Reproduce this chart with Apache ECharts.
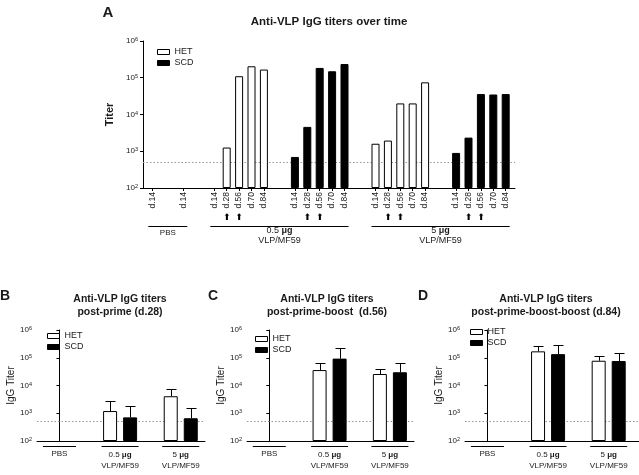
<!DOCTYPE html>
<html><head><meta charset="utf-8">
<script src="https://cdn.jsdelivr.net/npm/echarts/dist/echarts.min.js"></script>
<style>html,body{margin:0;padding:0;background:#fff}#c{width:639px;height:475px}</style>
</head><body><div id="c"></div>
<script>
// ---------- DATA ----------
const days = ['d.14', 'd.28', 'd.56', 'd.70', 'd.84'];
const boostDays = ['d.28', 'd.56'];
// Panel A (null = below detection / no bar)
const pbsHetA = [null];
const pbsScdA = [null];
const het05A = [null, 1260, 110000, 205000, 167000];
const scd05A = [700, 4600, 185000, 150000, 236000];
const het5A = [1600, 1950, 20000, 20000, 75000];
const scd5A = [900, 2350, 36000, 35000, 36000];
const detectionLimit = 500;
// Panels B, C, D
const groups = ['PBS', '0.5', '5'];
const hetB = [null, 1200, 4100], hetBerr = [null, 2750, 7300];
const scdB = [null, 710, 660], scdBerr = [null, 1900, 1600];
const hetC = [null, 36000, 26000], hetCerr = [null, 63000, 38000];
const scdC = [null, 93000, 30000], scdCerr = [null, 220000, 65000];
const hetD = [null, 170000, 78000], hetDerr = [null, 260000, 115000];
const scdD = [null, 135000, 76000], scdDerr = [null, 280000, 150000];
const titlesBCD = [['B', 'post-prime (d.28)'], ['C', 'post-prime-boost  (d.56)'], ['D', 'post-prime-boost-boost (d.84)']];

// ---------- BUILD ----------
const FONT = '"Liberation Sans", Arial, sans-serif';
const TXT = '#1a1a1a';
const chart = echarts.init(document.getElementById('c'));

const segs = [
  {key: 'PBS-HET', dose: 'PBS', ser: 'HET', days: ['d.14'], vals: pbsHetA},
  {key: 'PBS-SCD', dose: 'PBS', ser: 'SCD', days: ['d.14'], vals: pbsScdA},
  {key: '0.5-HET', dose: '0.5', ser: 'HET', days: days, vals: het05A},
  {key: '0.5-SCD', dose: '0.5', ser: 'SCD', days: days, vals: scd05A},
  {key: '5-HET', dose: '5', ser: 'HET', days: days, vals: het5A},
  {key: '5-SCD', dose: '5', ser: 'SCD', days: days, vals: scd5A}
];
const catsA = [], hetA = [], scdA = [], arrowA = [];
const spanA = {};
let gapN = 0;
function pushGap() { catsA.push('gap' + (gapN++)); hetA.push(null); scdA.push(null); arrowA.push(false); }
pushGap();
segs.forEach((s, i) => {
  if (i > 0) for (let k = 0; k < 4; k++) pushGap();
  s.days.forEach((d, j) => {
    if (j > 0) pushGap();
    const idx = catsA.length;
    catsA.push(s.key + '|' + d);
    hetA.push(s.ser === 'HET' ? s.vals[j] : null);
    scdA.push(s.ser === 'SCD' ? s.vals[j] : null);
    arrowA.push(s.dose !== 'PBS' && boostDays.includes(d));
    if (!spanA[s.dose]) spanA[s.dose] = [idx, idx]; else spanA[s.dose][1] = idx;
  });
});
pushGap();

const logLabel = {
  fontSize: 8, color: TXT, fontFamily: FONT, margin: 5,
  formatter: v => '10{s|' + Math.round(Math.log10(v)) + '}',
  rich: {s: {fontSize: 5.5, verticalAlign: 'top', fontFamily: FONT, color: TXT, padding: [0, 0, 3, 0]}}
};
function logAxis(grid, name, bold, gap) {
  return {
    type: 'log', logBase: 10, gridIndex: grid, min: 100, max: 1000000, startValue: 100,
    axisLine: {show: true, lineStyle: {color: '#000', width: 1}},
    axisTick: {show: true, inside: false, length: 3, lineStyle: {color: '#000'}},
    splitLine: {show: false}, minorTick: {show: false},
    axisLabel: logLabel,
    name: name, nameLocation: 'middle', nameGap: gap,
    nameTextStyle: {fontSize: bold ? 11 : 10, fontWeight: bold ? 'bold' : 'normal', color: TXT, fontFamily: FONT}
  };
}
const dotted = {
  silent: true, symbol: 'none', z: 1, label: {show: false},
  lineStyle: {type: [1.5, 2], color: '#999', width: 1},
  data: [{yAxis: detectionLimit}]
};
const hetStyle = {color: '#fff', borderColor: '#000', borderWidth: 1};
const scdStyle = {color: '#000', borderColor: '#000', borderWidth: 1};

const grids = [
  {left: 143, top: 41, width: 372, height: 147},
  {left: 37, top: 330, width: 168, height: 111},
  {left: 247, top: 330, width: 167, height: 111},
  {left: 465, top: 330, width: 174, height: 111}
].map(g => Object.assign({containLabel: false, outerBoundsMode: 'none'}, g));

const xAxes = [
  {type: 'category', gridIndex: 0, data: catsA, boundaryGap: true,
   axisLine: {show: true, lineStyle: {color: '#000'}},
   axisTick: {show: true, alignWithLabel: true, length: 3, lineStyle: {color: '#000'},
              interval: (i, v) => !String(v).startsWith('gap')},
   axisLabel: {interval: 0, rotate: 90, fontSize: 8.5, margin: 4, color: TXT, fontFamily: FONT,
               formatter: v => v.startsWith('gap') ? '' : v.split('|')[1]}},
  {type: 'category', gridIndex: 0, data: catsA, position: 'bottom', offset: 25,
   axisLine: {show: false}, axisTick: {show: false},
   axisLabel: {interval: 0, margin: 0, fontSize: 9, color: '#000', fontFamily: 'DejaVu Sans',
               formatter: (v, i) => arrowA[i] ? '⬆' : ''}}
];
const bcdMax = [2.4, 2.4, 2.5];
[1, 2, 3].forEach((g, k) => xAxes.push({
  type: 'value', gridIndex: g, min: -0.37, max: bcdMax[k],
  axisLine: {show: true, lineStyle: {color: '#000'}}, axisTick: {show: false},
  axisLabel: {show: false}, splitLine: {show: false}
}));
const yAxes = [logAxis(0, 'Titer', true, 22), logAxis(1, 'IgG Titer', false, 18),
               logAxis(2, 'IgG Titer', false, 18), logAxis(3, 'IgG Titer', false, 18)];

const series = [
  {type: 'bar', name: 'HET', xAxisIndex: 0, yAxisIndex: 0, data: hetA, barWidth: 8, barGap: '-100%',
   itemStyle: hetStyle, markLine: dotted, clip: true, z: 2},
  {type: 'bar', name: 'SCD', xAxisIndex: 0, yAxisIndex: 0, data: scdA, barWidth: 8, barGap: '-100%',
   itemStyle: scdStyle, clip: true, z: 2}
];
function pairs(vals) { return vals.map((v, i) => v == null ? null : [i, v]).filter(Boolean); }
function errSeries(k, vals, errs, sign) {
  return {
    type: 'custom', name: 'err', xAxisIndex: 2 + k, yAxisIndex: 1 + k, z: 4, silent: true,
    data: vals.map((v, i) => v == null ? null : [i, v, errs[i]]).filter(Boolean),
    renderItem: (params, api) => {
      const p0 = api.coord([api.value(0), api.value(1)]);
      const p1 = api.coord([api.value(0), api.value(2)]);
      const x = Math.round(p0[0] + sign * 10) + 0.5;
      const yt = Math.round(p1[1]) + 0.5;
      return {type: 'group', children: [
        {type: 'line', shape: {x1: x, y1: p0[1], x2: x, y2: yt}, style: {stroke: '#000', lineWidth: 1}},
        {type: 'line', shape: {x1: x - 5, y1: yt, x2: x + 5, y2: yt}, style: {stroke: '#000', lineWidth: 1}}
      ]};
    }
  };
}
const bcd = [[hetB, hetBerr, scdB, scdBerr], [hetC, hetCerr, scdC, scdCerr], [hetD, hetDerr, scdD, scdDerr]];
bcd.forEach((d, k) => {
  series.push({type: 'bar', name: 'HET', xAxisIndex: 2 + k, yAxisIndex: 1 + k, data: pairs(d[0]),
               barWidth: 14, barGap: '43%', itemStyle: hetStyle, markLine: dotted, clip: true, z: 2});
  series.push({type: 'bar', name: 'SCD', xAxisIndex: 2 + k, yAxisIndex: 1 + k, data: pairs(d[2]),
               barWidth: 14, barGap: '43%', itemStyle: scdStyle, clip: true, z: 2});
  series.push(errSeries(k, d[0], d[1], -1));
  series.push(errSeries(k, d[2], d[3], 1));
});

function legendAt(left, top) {
  return {data: ['HET', 'SCD'], left: left, top: top, orient: 'vertical', icon: 'rect',
          itemWidth: 12, itemHeight: 5, itemGap: 1, padding: 0, selectedMode: false,
          itemStyle: {borderWidth: 1},
          textStyle: {fontSize: 9, lineHeight: 10, color: TXT, fontFamily: FONT}};
}

chart.setOption({
  animation: false,
  textStyle: {fontFamily: FONT},
  grid: grids, xAxis: xAxes, yAxis: yAxes, series: series,
  legend: [legendAt(157, 47), legendAt(47, 331), legendAt(255, 334), legendAt(470, 327)]
});

// ---------- text & group brackets ----------
const gfx = [];
function txt(x, y, text, font, extra) {
  gfx.push({type: 'text', x: x, y: y, silent: true,
            style: Object.assign({text: text, font: font, fill: TXT, textAlign: 'center', textVerticalAlign: 'middle'}, extra || {})});
}
function hline(x1, x2, y) {
  gfx.push({type: 'line', silent: true, shape: {x1: x1, y1: y + 0.5, x2: x2, y2: y + 0.5}, style: {stroke: '#000', lineWidth: 1}});
}
const richMu = fs => ({rich: {b: {fontWeight: 'bold', fontSize: fs, fontFamily: FONT, fill: TXT}, n: {fontSize: fs, fontFamily: FONT, fill: TXT}}});

// Panel A
txt(108, 13, 'A', 'bold 15px ' + FONT);
txt(329, 22, 'Anti-VLP IgG titers over time', 'bold 11.5px ' + FONT);
['PBS', '0.5', '5'].forEach(dose => {
  const x1 = chart.convertToPixel({xAxisIndex: 0}, spanA[dose][0]) - 4;
  const x2 = chart.convertToPixel({xAxisIndex: 0}, spanA[dose][1]) + 4;
  const cx = (x1 + x2) / 2;
  hline(x1, x2, 226);
  if (dose === 'PBS') txt(cx, 233, 'PBS', '8px ' + FONT);
  else {
    txt(cx, 231, '{n|' + dose + ' }{b|μg}', '9px ' + FONT, richMu(9));
    txt(cx, 241, 'VLP/MF59', '9px ' + FONT);
  }
});
// Panels B, C, D
const letterX = [5, 213, 423];
titlesBCD.forEach((t, k) => {
  const cx0 = chart.convertToPixel({xAxisIndex: 2 + k}, 0);
  const gl = grids[1 + k].left;
  txt(letterX[k], 296, t[0], 'bold 14px ' + FONT);
  const tcx = [120, 327, 546][k];
  txt(tcx, 299, 'Anti-VLP IgG titers', 'bold 10.5px ' + FONT);
  txt(tcx, 312, t[1], 'bold 10.5px ' + FONT);
  groups.forEach((gname, i) => {
    const cx = chart.convertToPixel({xAxisIndex: 2 + k}, i);
    const hw = i === 0 ? 16.5 : 18.5;
    hline(cx - hw, cx + hw, 446);
    if (i === 0) txt(cx, 454, 'PBS', '8px ' + FONT);
    else {
      txt(cx, 455, '{n|' + gname + ' }{b|μg}', '8px ' + FONT, richMu(8));
      txt(cx, 466, 'VLP/MF59', '8px ' + FONT);
    }
  });
});
chart.setOption({graphic: {elements: gfx}});
</script>
</body></html>
